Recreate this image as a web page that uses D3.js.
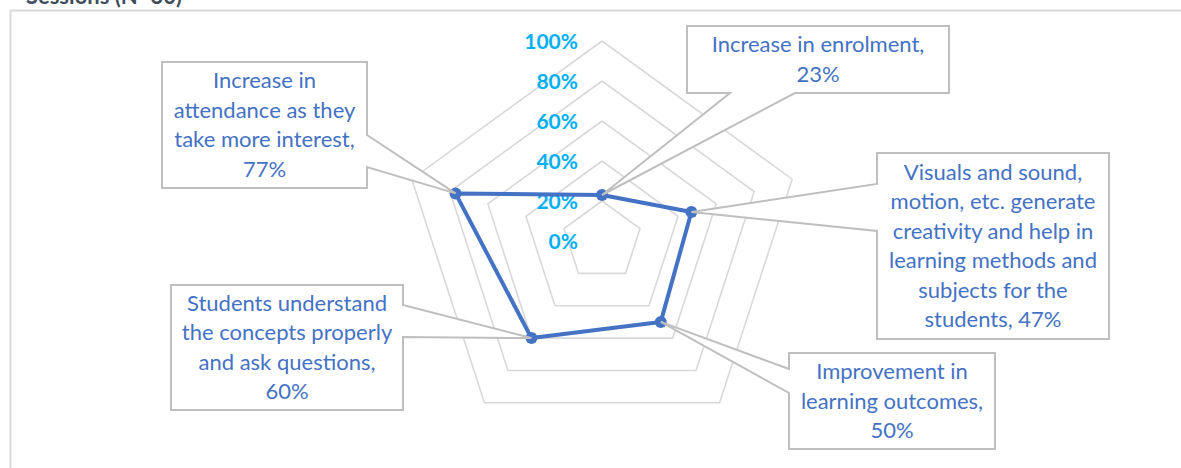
<!DOCTYPE html>
<html>
<head>
<meta charset="utf-8">
<script src="https://cdn.jsdelivr.net/npm/d3@7"></script>
<style>
  body { margin: 0; background: #fff; }
  svg { display: block; }
</style>
</head>
<body>
<div id="chart"></div>
<script>
// categories clockwise from the top axis
const categories = [
  "Increase in enrolment",
  "Visuals and sound, motion, etc. generate creativity and help in learning methods and subjects for the students",
  "Improvement in learning outcomes",
  "Students understand the concepts properly and ask questions",
  "Increase in attendance as they take more interest"
];
const values = [0.23, 0.47, 0.50, 0.60, 0.77];
const ticks = [0, 0.2, 0.4, 0.6, 0.8, 1.0];

// wrapped label lines, as they appear in the callouts
const labelLines = [
  ["Increase in enrolment,", "23%"],
  ["Visuals and sound,", "motion, etc. generate", "creativity and help in", "learning methods and", "subjects for the", "students, 47%"],
  ["Improvement in", "learning outcomes,", "50%"],
  ["Students understand", "the concepts properly", "and ask questions,", "60%"],
  ["Increase in", "attendance as they", "take more interest,", "77%"]
];

// callout boxes (layout only): box edges, side the wedge leaves from, wedge base
const callouts = [
  {x0: 687, y0: 26, x1: 949, y1: 93, side: "bottom", a: 730, b: 795},
  {x0: 877, y0: 153, x1: 1109, y1: 339, side: "left", a: 184, b: 231},
  {x0: 789, y0: 353, x1: 995, y1: 449, side: "left", a: 369, b: 393},
  {x0: 171, y0: 285, x1: 403, y1: 410, side: "right", a: 305, b: 337},
  {x0: 162, y0: 62, x1: 367, y1: 188, side: "right", a: 135, b: 167}
];

var cfg = {
  w: 1181,
  h: 468,
  cx: 602,
  cy: 241,
  R: 200,
  lineColor: "#4472C4",
  gridColor: "#d9d9d9",
  calloutStroke: "#bfbfbf",
  axisColor: "#00B0F0",
  font: "Lato, 'Open Sans', sans-serif"
};

var svg = d3.select("#chart")
  .append("svg")
  .attr("width", cfg.w)
  .attr("height", cfg.h);

svg.append("rect").attr("width", cfg.w).attr("height", cfg.h).attr("fill", "#fff");

// chart area border (only top and left visible)
svg.append("path")
  .attr("d", "M10.5," + cfg.h + " L10.5,10.5 L" + cfg.w + ",10.5")
  .attr("fill", "none")
  .attr("stroke", "#d9d9d9")
  .attr("stroke-width", 2);

// title, cut off by the top edge like in the source
svg.append("text")
  .attr("x", 182)
  .attr("y", 4)
  .attr("text-anchor", "end")
  .style("font-family", cfg.font)
  .style("font-weight", "bold")
  .style("font-size", "22px")
  .style("fill", "#3f4d5c")
  .text("Sessions (N=30)");

var r = d3.scaleLinear().domain([0, 1]).range([0, cfg.R]);
var n = categories.length;
function angle(i) { return i * 2 * Math.PI / n; }
function pt(i, v) {
  return [cfg.cx + r(v) * Math.sin(angle(i)), cfg.cy - r(v) * Math.cos(angle(i))];
}

var g = svg.append("g");

// pentagon gridlines
var gridLine = d3.line();
ticks.filter(t => t > 0).forEach(function(t) {
  var pts = d3.range(n).map(i => pt(i, t));
  pts.push(pts[0]);
  g.append("path")
    .attr("d", gridLine(pts))
    .attr("fill", "none")
    .attr("stroke", cfg.gridColor)
    .attr("stroke-width", 1.6);
});

// axis labels along the top axis
g.selectAll(".tick")
  .data(ticks)
  .enter()
  .append("text")
  .attr("x", cfg.cx - 24)
  .attr("y", d => cfg.cy - r(d))
  .attr("dy", "0.36em")
  .attr("text-anchor", "end")
  .style("font-family", cfg.font)
  .style("font-weight", "bold")
  .style("font-size", "21px")
  .style("fill", cfg.axisColor)
  .text(d => d3.format(".0%")(d));

// data series
var seriesPts = values.map((v, i) => pt(i, v));
g.append("path")
  .attr("d", d3.line()(seriesPts.concat([seriesPts[0]])))
  .attr("fill", "none")
  .attr("stroke", cfg.lineColor)
  .attr("stroke-width", 4)
  .attr("stroke-linejoin", "round");

g.selectAll(".dot")
  .data(seriesPts)
  .enter()
  .append("circle")
  .attr("cx", d => d[0])
  .attr("cy", d => d[1])
  .attr("r", 6)
  .attr("fill", cfg.lineColor);

// callouts
function calloutPath(c, tip) {
  var p = [];
  if (c.side === "right") {
    p = [[c.x0, c.y0], [c.x1, c.y0], [c.x1, c.a], tip, [c.x1, c.b], [c.x1, c.y1], [c.x0, c.y1]];
  } else if (c.side === "left") {
    p = [[c.x0, c.y0], [c.x1, c.y0], [c.x1, c.y1], [c.x0, c.y1], [c.x0, c.b], tip, [c.x0, c.a]];
  } else {
    p = [[c.x0, c.y0], [c.x1, c.y0], [c.x1, c.y1], [c.b, c.y1], tip, [c.a, c.y1], [c.x0, c.y1]];
  }
  return "M" + p.map(q => q.join(",")).join("L") + "Z";
}

callouts.forEach(function(c, i) {
  g.append("path")
    .attr("d", calloutPath(c, seriesPts[i]))
    .attr("fill", "#fff")
    .attr("stroke", cfg.calloutStroke)
    .attr("stroke-width", 2)
    .attr("stroke-linejoin", "miter");

  var lines = labelLines[i];
  var lh = 29.5;
  var midY = (c.y0 + c.y1) / 2;
  var top = midY - (lines.length - 1) * lh / 2;
  var t = g.append("text")
    .attr("text-anchor", "middle")
    .style("font-family", cfg.font)
    .style("font-size", "22px")
    .style("fill", cfg.lineColor);
  lines.forEach(function(l, k) {
    t.append("tspan")
      .attr("x", (c.x0 + c.x1) / 2)
      .attr("y", top + k * lh)
      .attr("dy", "0.35em")
      .text(l);
  });
});
</script>
</body>
</html>
